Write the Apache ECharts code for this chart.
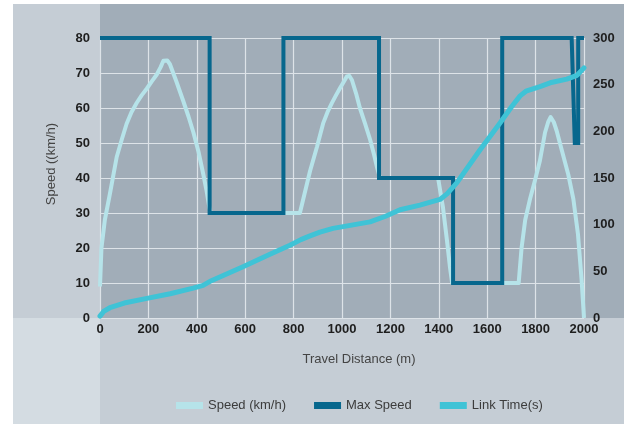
<!DOCTYPE html>
<html>
<head>
<meta charset="utf-8">
<script src="https://cdn.jsdelivr.net/npm/echarts@6/dist/echarts.min.js"></script>
<style>
  html, body { margin: 0; padding: 0; background: #ffffff; }
  #chart { width: 624px; height: 424px; }
</style>
</head>
<body>
<div id="chart"></div>
<script>
// Distance ticks along the route (m)
const distanceTicks = [0, 200, 400, 600, 800, 1000, 1200, 1400, 1600, 1800, 2000];
const speedTicks = [0, 10, 20, 30, 40, 50, 60, 70, 80];
const timeTicks = [0, 50, 100, 150, 200, 250, 300];

// Measured vehicle speed: [distance m, km/h]
const speedData = [
  [0, 9], [6, 20], [20, 28], [41, 35.5], [69, 46], [90, 51], [110, 55.5], [130, 58.8],
  [152, 61.5], [172, 63.6], [193, 65.5], [214, 67.6], [234, 69.5], [250, 71.6],
  [262, 73.5], [270, 73.9], [278, 73.6], [289, 72.5], [316, 67.5], [344, 62],
  [366, 57.5], [386, 53], [407, 47.5], [427, 41], [440, 36.5], [452, 31.5], [458, 30],
  [826, 30], [839, 33.7], [868, 42], [897, 49], [922, 55.6], [940, 58.8], [958, 61.4],
  [975, 63.6], [992, 65.7], [1008, 67.6], [1020, 69], [1030, 69.2], [1041, 68],
  [1058, 64.2], [1074, 60], [1095, 55.6], [1116, 51], [1132, 46.8], [1145, 43], [1157, 40],
  [1397, 40], [1417, 31.7], [1434, 22], [1446, 14.6], [1455, 10],
  [1730, 10], [1742, 20], [1757, 28], [1777, 34], [1800, 40], [1818, 45],
  [1839, 53], [1852, 56], [1862, 57.4], [1875, 56], [1887, 53.5], [1908, 48], [1935, 41],
  [1956, 34], [1975, 24], [1990, 11], [2000, 0]
];

// Posted speed limit along the link: [distance m, km/h]
const maxSpeedData = [
  [0, 80], [453, 80], [453, 30], [758, 30], [758, 80], [1153, 80], [1153, 40],
  [1459, 40], [1459, 10], [1662, 10], [1662, 80], [1949, 80], [1962, 50],
  [1976, 50], [1976, 80], [2000, 80]
];

// Cumulative link travel time: [distance m, s]
const linkTimeData = [
  [0, 2], [15, 7], [41, 11], [100, 16], [194, 21], [290, 26], [385, 32],
  [426, 35], [460, 40], [591, 55], [700, 68], [785, 78], [830, 84], [868, 88],
  [909, 92], [963, 96], [1040, 99.5], [1116, 103], [1180, 109], [1240, 116],
  [1322, 121], [1405, 127], [1434, 133], [1475, 145], [1570, 180], [1653, 209],
  [1700, 226], [1736, 238], [1760, 243], [1818, 248], [1860, 252], [1929, 256],
  [1971, 260], [2000, 268]
];

const seriesNames = ['Speed (km/h)', 'Max Speed', 'Link Time(s)'];
const seriesColors = ['#b6e3e9', '#07678d', '#3fc3d6'];

const labelFont = 'Liberation Sans, Arial, Helvetica, sans-serif';

const chart = echarts.init(document.getElementById('chart'), null, { renderer: 'canvas' });

chart.setOption({
  backgroundColor: '#ffffff',
  animation: false,
  textStyle: { fontFamily: labelFont },
  graphic: [
    { type: 'rect', z: -10, silent: true, shape: { x: 13, y: 4, width: 87, height: 314 }, style: { fill: '#c5cdd5' } },
    { type: 'rect', z: -10, silent: true, shape: { x: 100, y: 4, width: 524, height: 314 }, style: { fill: '#a1adb8' } },
    { type: 'rect', z: -10, silent: true, shape: { x: 13, y: 318, width: 87, height: 106 }, style: { fill: '#d4dce2' } },
    { type: 'rect', z: -10, silent: true, shape: { x: 100, y: 318, width: 524, height: 106 }, style: { fill: '#c5cdd5' } }
  ],
  grid: { left: 100, right: 40, top: 38, bottom: 106 },
  legend: {
    data: seriesNames,
    left: 176,
    top: 399,
    padding: 0,
    icon: 'rect',
    itemWidth: 27,
    itemHeight: 7,
    itemGap: 28,
    textStyle: { fontSize: 13, color: '#3c3c3c', fontFamily: labelFont }
  },
  xAxis: {
    type: 'value',
    min: distanceTicks[0],
    max: distanceTicks[distanceTicks.length - 1],
    interval: distanceTicks[1] - distanceTicks[0],
    name: 'Travel Distance (m)',
    nameLocation: 'middle',
    nameGap: 35,
    nameTextStyle: { fontSize: 13, color: '#444444', padding: [0, 0, 0, 34] },
    axisLine: { show: false },
    axisTick: { show: false },
    axisLabel: {
      fontSize: 13, fontWeight: 'bold', color: '#1e1e1e', margin: 5,
      formatter: (v) => String(v)
    },
    splitLine: { show: true, lineStyle: { color: '#dde3e8', width: 1.2 } }
  },
  yAxis: [
    {
      type: 'value',
      min: speedTicks[0],
      max: speedTicks[speedTicks.length - 1],
      interval: speedTicks[1] - speedTicks[0],
      name: 'Speed ((km/h)',
      nameLocation: 'middle',
      nameRotate: 90,
      nameGap: 42,
      nameTextStyle: { fontSize: 13, color: '#444444', padding: [0, 0, 0, 28] },
      axisLine: { show: false },
      axisTick: { show: false },
      axisLabel: { fontSize: 13, fontWeight: 'bold', color: '#1e1e1e', margin: 10, padding: [0, 0, 7, 0] },
      splitLine: { show: true, lineStyle: { color: '#dde3e8', width: 1.2 } }
    },
    {
      type: 'value',
      position: 'right',
      min: timeTicks[0],
      max: timeTicks[timeTicks.length - 1],
      interval: timeTicks[1] - timeTicks[0],
      axisLine: { show: false },
      axisTick: { show: false },
      axisLabel: { fontSize: 13, fontWeight: 'bold', color: '#1e1e1e', margin: 9, padding: [0, 0, 7, 0] },
      splitLine: { show: false }
    }
  ],
  series: [
    {
      name: seriesNames[0],
      type: 'line',
      yAxisIndex: 0,
      data: speedData,
      showSymbol: false,
      smooth: false,
      color: seriesColors[0],
      lineStyle: { width: 4, color: seriesColors[0], join: 'round' },
      z: 2
    },
    {
      name: seriesNames[1],
      type: 'line',
      yAxisIndex: 0,
      data: maxSpeedData,
      showSymbol: false,
      color: seriesColors[1],
      lineStyle: { width: 4, color: seriesColors[1], join: 'miter' },
      z: 3
    },
    {
      name: seriesNames[2],
      type: 'line',
      yAxisIndex: 1,
      data: linkTimeData,
      showSymbol: false,
      smooth: false,
      color: seriesColors[2],
      lineStyle: { width: 5, color: seriesColors[2], cap: 'round', join: 'round' },
      z: 4
    }
  ]
});
</script>
</body>
</html>
